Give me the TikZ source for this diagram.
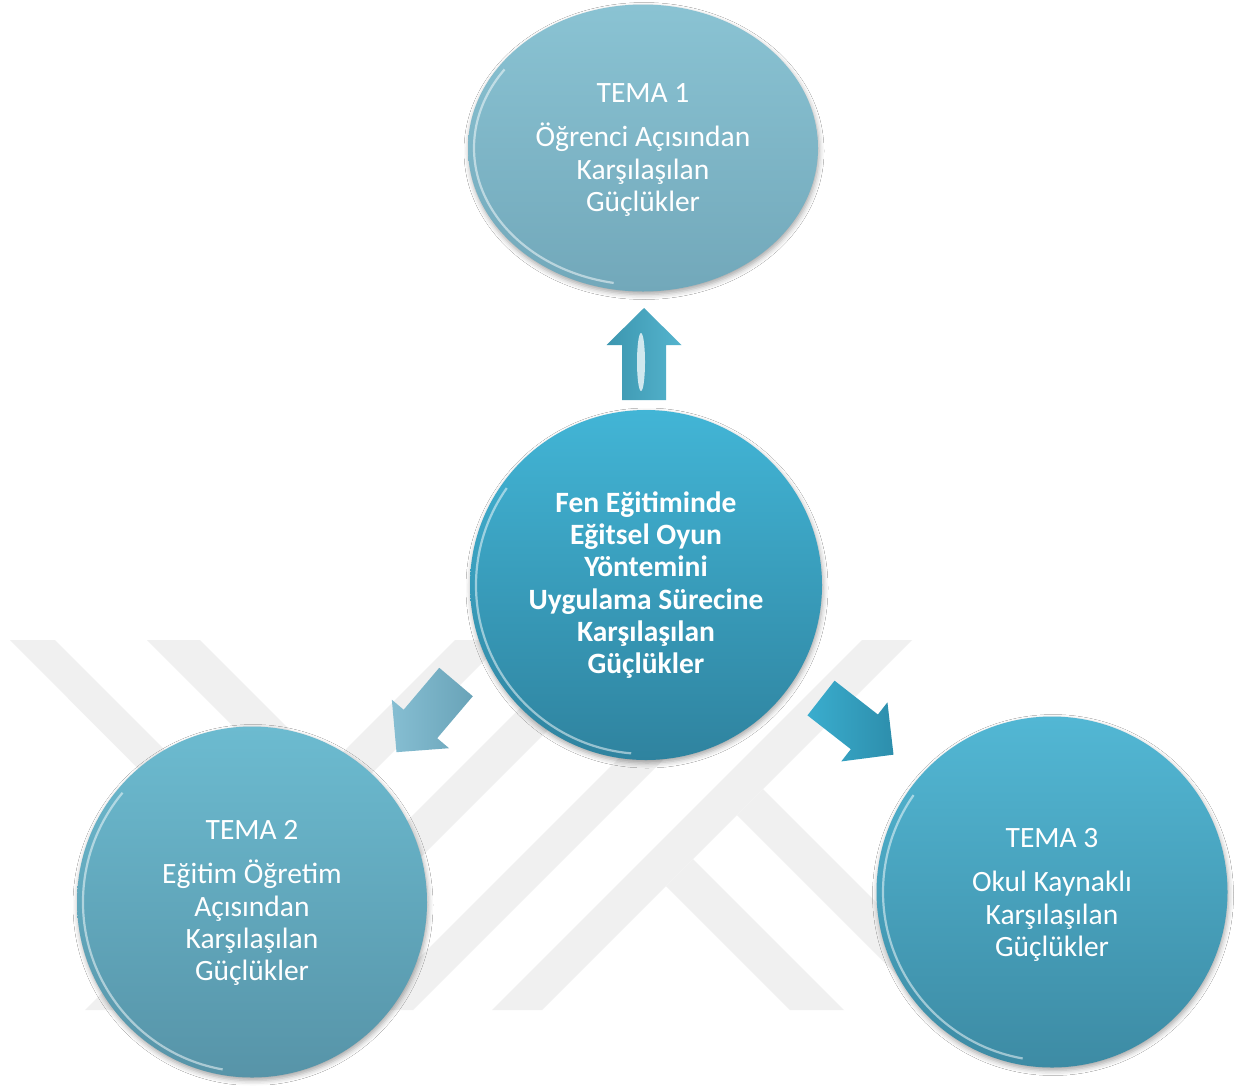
\documentclass[tikz,border=0pt]{standalone}
\usepackage{fontspec}
\setmainfont{Carlito}
\usetikzlibrary{shapes.geometric,shadows.blur}
\definecolor{wmgray}{HTML}{F0F0F0}
\definecolor{topA}{HTML}{8AC3D3}\definecolor{topB}{HTML}{72A8BA}
\definecolor{cenA}{HTML}{42B5D6}\definecolor{cenB}{HTML}{2F839F}
\definecolor{lefA}{HTML}{6CBBD0}\definecolor{lefB}{HTML}{5794A8}
\definecolor{rigA}{HTML}{52B7D4}\definecolor{rigB}{HTML}{3D8BA4}
\definecolor{arUpA}{HTML}{55B4CE}\definecolor{arUpB}{HTML}{3C96AF}
\definecolor{arLfA}{HTML}{86BED2}\definecolor{arLfB}{HTML}{69A3B8}
\definecolor{arRtA}{HTML}{3AADCE}\definecolor{arRtB}{HTML}{2D8EAC}
\tikzset{
  bubble/.style={ellipse, inner sep=0pt, text=white, align=center,
    blur shadow={shadow xshift=1pt, shadow yshift=-3pt, shadow blur radius=5pt, shadow opacity=35}},
  thintxt/.style={font=\fontsize{29.5}{32.3}\selectfont},
  boldtxt/.style={font=\bfseries\fontsize{29.5}{32.3}\selectfont},
  rim/.style={white, opacity=0.5, line width=2.2pt},
  wm/.style={fill=wmgray},
}
\newcommand\blockarrow{(0,-22) -- (55,-22) -- (55,-37.5) -- (92,0) -- (55,37.5) -- (55,22) -- (0,22) -- cycle}
\begin{document}
\begin{tikzpicture}[x=1pt,y=-1pt]
\fill[white] (0,0) rectangle (1246,1085);
\useasboundingbox (0,0) rectangle (1246,1085);
% watermark
\fill[wm] (10,640) -- (55,640) -- (280,865) -- (257,888) -- cycle;
\fill[wm] (147,640) -- (200,640) -- (352,792) -- (326,819) -- cycle;
\fill[wm] (85,1010) -- (135,1010) -- (505,640) -- (455,640) -- cycle;
\fill[wm] (218,1010) -- (268,1010) -- (638,640) -- (588,640) -- cycle;
\fill[wm] (367,1010) -- (413,1010) -- (783,640) -- (737,640) -- cycle;
\fill[wm] (492,1010) -- (542,1010) -- (912,640) -- (862,640) -- cycle;
\fill[wm] (666,886) -- (693,859) -- (844,1010) -- (790,1010) -- cycle;
\fill[wm] (763,789) -- (737,815) -- (932,1010) -- (984,1010) -- cycle;
% bubbles
\node[bubble, minimum width=350pt, minimum height=287pt, top color=topA, bottom color=topB] (t1) at (643,148) {};
\node[bubble, minimum width=352pt, minimum height=350pt, top color=cenA, bottom color=cenB] (c) at (646,585) {};
\node[bubble, minimum width=350pt, minimum height=351pt, top color=lefA, bottom color=lefB] (t2) at (252,902) {};
\node[bubble, minimum width=351pt, minimum height=351pt, top color=rigA, bottom color=rigB] (t3) at (1052,892) {};
% rims
\draw[rim] (t1.center) ++({169*cos(100)},{137*sin(100)}) arc[start angle=100,end angle=215,x radius=169,y radius=137];
\draw[rim] (c.center) ++({170*cos(95)},{169*sin(95)}) arc[start angle=95,end angle=215,x radius=170,y radius=169];
\draw[rim] (t2.center) ++({169*cos(100)},{170*sin(100)}) arc[start angle=100,end angle=220,x radius=169,y radius=170];
\draw[rim] (t3.center) ++({169*cos(100)},{169*sin(100)}) arc[start angle=100,end angle=215,x radius=169,y radius=169];
% texts
\node[thintxt, text=white, align=center] (t1txt) at ([yshift=-2]t1.center) {TEMA 1\\[12pt]Öğrenci Açısından\\Karşılaşılan\\Güçlükler};
\node[boldtxt, text=white, align=center] (ctxt) at (c.center) {Fen Eğitiminde\\Eğitsel Oyun\\Yöntemini\\Uygulama Sürecine\\Karşılaşılan\\Güçlükler};
\node[thintxt, text=white, align=center] (t2txt) at ([yshift=-1]t2.center) {TEMA 2\\[12pt]Eğitim Öğretim\\Açısından\\Karşılaşılan\\Güçlükler};
\node[thintxt, text=white, align=center] (t3txt) at ([yshift=-3]t3.center) {TEMA 3\\[12pt]Okul Kaynaklı\\Karşılaşılan\\Güçlükler};
% block arrows
\begin{scope}[shift={(644,400)}, rotate=90]
  \shade[left color=arUpB, right color=arUpA] \blockarrow;
\end{scope}
\fill[white, opacity=0.75] (641,362) ellipse[x radius=4, y radius=29];
\begin{scope}[shift={(456,682)}, rotate=-130.3]
  \shade[left color=arLfA, right color=arLfB] \blockarrow;
\end{scope}
\begin{scope}[shift={(821,698)}, rotate=-38]
  \shade[left color=arRtA, right color=arRtB] \blockarrow;
\end{scope}
\end{tikzpicture}
\end{document}
